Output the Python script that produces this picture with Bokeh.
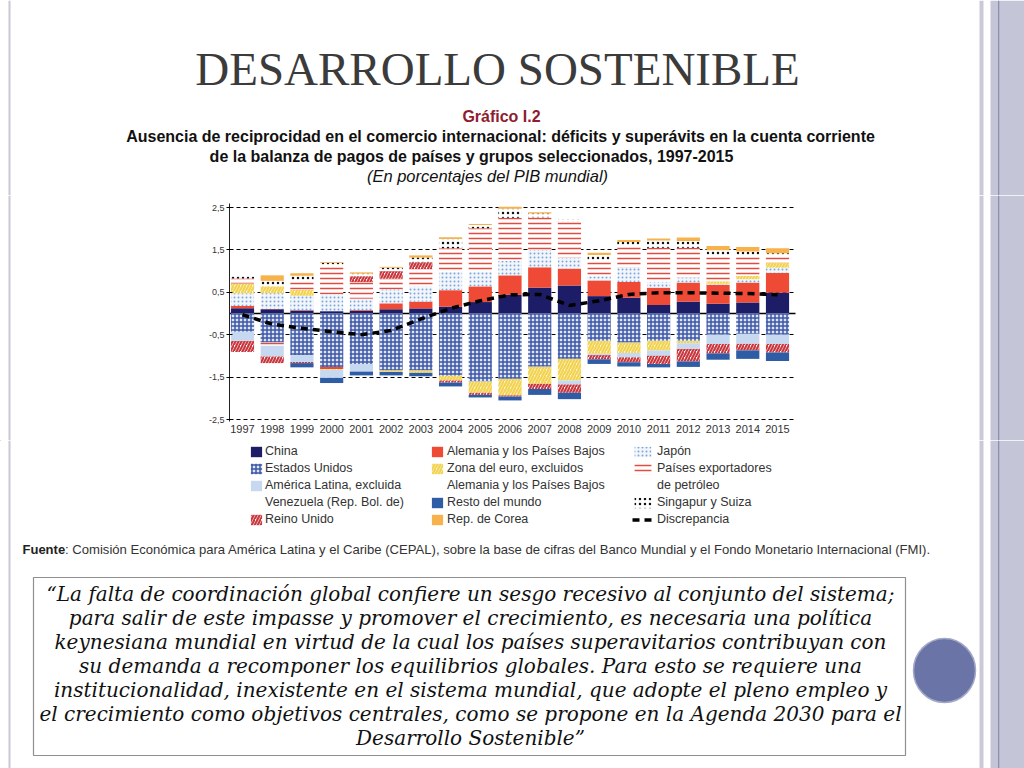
import numpy as np
from bokeh.plotting import figure
from bokeh.layouts import column
from bokeh.models import (ColumnDataSource, FixedTicker, Legend, LegendItem, Range1d,
                          CustomJSTickFormatter, Grid)
from bokeh.core.properties import value
from bokeh.embed import file_html
from bokeh.resources import INLINE

# ---------------- data (percent of world GDP) ----------------
years = list(range(1997, 2016))
china = [0.125, 0.10, 0.07, 0.055, 0.06, 0.10, 0.12, 0.16, 0.27, 0.44, 0.61, 0.66, 0.41, 0.375, 0.20, 0.28, 0.23, 0.26, 0.49]
alemania = [0.05, 0.01, 0.01, -0.05, 0.02, 0.14, 0.16, 0.39, 0.37, 0.46, 0.48, 0.40, 0.37, 0.37, 0.41, 0.45, 0.45, 0.47, 0.47]
japon = [0.30, 0.37, 0.34, 0.40, 0.27, 0.33, 0.36, 0.43, 0.35, 0.34, 0.41, 0.25, 0.10, 0.34, 0.14, 0.12, 0.02, 0.08, 0.12]
zona_euro = [0.23, 0.16, 0.14, -0.02, 0.0, -0.04, -0.06, -0.12, -0.27, -0.39, -0.41, -0.51, -0.31, -0.25, -0.23, -0.06, 0.06, 0.08, 0.12]
petroleo = [0.12, -0.08, 0.21, 0.66, 0.39, 0.25, 0.41, 0.56, 1.02, 1.02, 0.77, 0.86, 0.37, 0.51, 0.80, 0.70, 0.60, 0.47, 0.16]
reino_unido = [-0.27, -0.16, -0.03, 0.0, 0.14, 0.18, 0.16, -0.05, -0.05, -0.03, -0.12, -0.20, -0.10, -0.12, -0.20, -0.30, -0.22, -0.16, -0.20]
singapur = [0.08, 0.13, 0.12, 0.08, 0.06, 0.08, 0.11, 0.22, 0.08, 0.21, 0.09, 0.06, 0.13, 0.09, 0.17, 0.16, 0.13, 0.10, 0.06]
corea = [0.0, 0.13, 0.06, 0.02, 0.03, 0.02, 0.05, 0.04, 0.02, 0.05, 0.03, 0.0, 0.05, 0.05, 0.05, 0.08, 0.10, 0.11, 0.12]
eeuu = [-0.43, -0.68, -0.98, -1.26, -1.19, -1.34, -1.34, -1.46, -1.60, -1.54, -1.25, -1.07, -0.64, -0.68, -0.64, -0.64, -0.50, -0.48, -0.50]
america_latina = [-0.21, -0.25, -0.16, -0.19, -0.18, 0.0, 0.0, 0.0, 0.0, 0.0, 0.0, -0.09, -0.03, -0.10, -0.12, -0.13, -0.22, -0.23, -0.22]
resto = [0.0, 0.0, -0.10, -0.12, -0.09, -0.08, -0.08, -0.09, -0.06, -0.09, -0.14, -0.15, -0.11, -0.10, -0.08, -0.13, -0.15, -0.20, -0.20]
discrepancia = [-0.03, -0.25, -0.35, -0.43, -0.50, -0.40, -0.13, 0.12, 0.30, 0.44, 0.45, 0.19, 0.30, 0.45, 0.49, 0.49, 0.48, 0.47, 0.44]

y_ticks = [-2.5, -1.5, -0.5, 0.5, 1.5, 2.5]

series = {
    "china": china, "alemania": alemania, "japon": japon, "zona": zona_euro,
    "petroleo": petroleo, "ru": reino_unido, "singapur": singapur, "corea": corea,
    "eeuu": eeuu, "amlat": america_latina, "resto": resto,
}
pos_order = ["china", "alemania", "japon", "zona", "petroleo", "ru", "singapur", "corea"]
neg_order = ["eeuu", "alemania", "petroleo", "zona", "amlat", "ru", "resto"]

styles = {
    "china": dict(fill_color="#1c1d66"),
    "alemania": dict(fill_color="#ee4a36"),
    "japon": dict(fill_color="#f2f6fc", hatch_pattern=".", hatch_color="#7ca5da", hatch_scale=4, hatch_weight=1.6),
    "zona": dict(fill_color="#fdf7dc", hatch_pattern="/", hatch_color="#f2d24e", hatch_scale=6, hatch_weight=2.2),
    "petroleo": dict(fill_color="white", hatch_pattern="-", hatch_color="#e44a40", hatch_scale=5, hatch_weight=1.5),
    "ru": dict(fill_color="white", hatch_pattern="/", hatch_color="#c9383f", hatch_scale=6, hatch_weight=2.2),
    "singapur": dict(fill_color="white", hatch_pattern=".", hatch_color="#111111", hatch_scale=5, hatch_weight=2.0),
    "corea": dict(fill_color="#f8b24c"),
    "eeuu": dict(fill_color="#dfe5f3", hatch_pattern="+", hatch_color="#3d58a8", hatch_scale=4, hatch_weight=1.5),
    "amlat": dict(fill_color="#c6d9f0"),
    "resto": dict(fill_color="#2e5da6"),
}
disc_style = dict(line_color="black", line_width=3.5, line_dash="7 5")

n = len(years)
bottoms = {k: np.zeros(n) for k in series}
tops = {k: np.zeros(n) for k in series}
base = np.zeros(n)
for k in pos_order:
    v = np.array(series[k], dtype=float)
    m = v > 0
    bottoms[k][m] = base[m]
    tops[k][m] = base[m] + v[m]
    base = base + np.where(m, v, 0)
base = np.zeros(n)
for k in neg_order:
    v = np.array(series[k], dtype=float)
    m = v < 0
    tops[k][m] = base[m]
    bottoms[k][m] = base[m] + v[m]
    base = base + np.where(m, v, 0)

W, H = 1024, 768
Y_HEAD, Y_CHART = 195, 440          # row boundaries (page px)

DECO = [(8, 10, "#c8c9d3"), (979, 983, "#c9cad8"), (990, 1024, "#c4c6d7"), (997.5, 998.8, "#8c8eb2")]


def blank_fig(x0, x1, y0, y1):
    f = figure(width=x1 - x0, height=y1 - y0, output_backend="svg", toolbar_location=None,
               x_range=Range1d(x0, x1), y_range=Range1d(y1, y0),
               min_border=0, x_axis_type=None, y_axis_type=None)
    f.min_border_left = f.min_border_right = f.min_border_top = f.min_border_bottom = 0
    f.grid.visible = False
    f.outline_line_color = None
    f.background_fill_color = "white"
    f.border_fill_color = "white"
    return f


def deco(f, y0, y1, X=lambda v: v):
    for l, r, c in DECO:
        f.quad(left=[X(l)], right=[X(r)], top=[y0], bottom=[y1], fill_color=c, line_color=None)


def txt(f, x, y, text, size, font="Liberation Sans", style="normal", color="#222222", align="center"):
    f.text(x=[x], y=[y], text=[text], text_font=value(font), text_font_size=size,
           text_font_style=style, text_color=color, text_align=align, text_baseline="middle")


# ---------------- header ----------------
head = blank_fig(0, W, 0, Y_HEAD)
deco(head, 0, Y_HEAD)
txt(head, 497, 68, "DESARROLLO SOSTENIBLE", "47px", font="Liberation Serif", color="#3b3b3b")
txt(head, 501, 116, "Gráfico I.2", "16px", style="bold", color="#8e1d2e")
txt(head, 500, 136, "Ausencia de reciprocidad en el comercio internacional: déficits y superávits en la cuenta corriente",
    "16px", style="bold", color="#111111")
txt(head, 471, 156, "de la balanza de pagos de países y grupos seleccionados, 1997-2015", "16px", style="bold",
    color="#111111")
txt(head, 487, 175, "(En porcentajes del PIB mundial)", "16.5px", style="italic", color="#111111")

# ---------------- chart row: one full-width figure, frame = whole canvas ----------------
# page layout of the plotting area: 1997 bar at x=242, 2015 bar at x=777; +2.5 at y=207, -2.5 at y=419
SX = (777 - 242) / 18.0
SY = (419 - 207) / 5.0
x0 = 1997 - 242 / SX
x1 = 2015 + (W - 777) / SX
ytop = 2.5 + (207 - Y_HEAD) / SY
ybot = -2.5 - (Y_CHART - 419) / SY
XL, XR = x0 + 229 / SX, x0 + 795 / SX      # chart box edges (data units)

p = figure(width=W, height=Y_CHART - Y_HEAD, output_backend="svg", toolbar_location=None,
           x_range=Range1d(x0, x1), y_range=Range1d(ybot, ytop),
           background_fill_color="white", border_fill_color="white", min_border=0)
p.min_border_left = p.min_border_right = p.min_border_top = p.min_border_bottom = 0
p.outline_line_color = None
p.xgrid.visible = False
p.ygrid.visible = False

deco(p, ytop, ybot, X=lambda v: x0 + v / SX)

has_cross = "cross_bounds" in Grid.properties()
if has_cross:
    g = Grid(dimension=1, ticker=FixedTicker(ticks=y_ticks), cross_bounds=(XL, XR),
             grid_line_color="black", grid_line_dash="4 3", grid_line_width=1)
    p.add_layout(g)
    g0 = Grid(dimension=1, ticker=FixedTicker(ticks=[0]), cross_bounds=(XL, XR),
              grid_line_color="black", grid_line_width=1.6)
    p.add_layout(g0)
else:
    p.segment(x0=[XL] * len(y_ticks), x1=[XR] * len(y_ticks), y0=y_ticks, y1=y_ticks,
              line_color="black", line_dash="4 3", line_width=1)
    p.segment(x0=[XL], x1=[XR], y0=[0], y1=[0], line_color="black", line_width=1.6)

p.yaxis.fixed_location = XL
p.yaxis.bounds = (-2.55, 2.6)
p.yaxis.ticker = FixedTicker(ticks=y_ticks)
p.yaxis.formatter = CustomJSTickFormatter(code="return tick.toFixed(1).replace('.', ',');")
p.yaxis.major_tick_in = 3
p.yaxis.major_tick_out = 3
p.yaxis.minor_tick_line_color = None
p.yaxis.axis_line_color = "#222222"
p.yaxis.major_label_text_font = "Liberation Sans"
p.yaxis.major_label_text_font_size = "9px"
p.yaxis.major_label_text_color = "#333333"
p.yaxis.major_label_standoff = 2

p.xaxis.fixed_location = -2.5
p.xaxis.ticker = FixedTicker(ticks=years)
p.xaxis.axis_line_color = None
p.xaxis.major_tick_line_color = None
p.xaxis.major_tick_in = 0
p.xaxis.major_tick_out = 0
p.xaxis.minor_tick_line_color = None
p.xaxis.minor_tick_out = 0
p.xaxis.major_label_text_font = "Liberation Sans"
p.xaxis.major_label_text_font_size = "11px"
p.xaxis.major_label_text_color = "#333333"
p.xaxis.major_label_standoff = 5

for k in series:
    src = ColumnDataSource(dict(x=years, bottom=bottoms[k], top=tops[k]))
    p.vbar(x="x", bottom="bottom", top="top", width=0.78, source=src, line_color=None, **styles[k])

p.line(years, discrepancia, **disc_style)

# ---------------- bottom part ----------------
bot = blank_fig(0, W, Y_CHART, H)
deco(bot, Y_CHART, H)

# legend swatch renderers: styled like the bars, parked outside the visible range
OFF = -5000
proxy = {k: bot.vbar(x=[OFF], top=[OFF + 1], bottom=[OFF], width=1, line_color=None, **styles[k])
         for k in styles}
proxy["disc"] = bot.line(x=[OFF, OFF + 1], y=[OFF, OFF], **disc_style)
proxy[None] = bot.vbar(x=[OFF], top=[OFF + 1], bottom=[OFF], width=1, fill_alpha=0, line_alpha=0)

col1 = [("China", "china"), ("Estados Unidos", "eeuu"), ("América Latina, excluida", "amlat"),
        ("Venezuela (Rep. Bol. de)", None), ("Reino Unido", "ru")]
col2 = [("Alemania y los Países Bajos", "alemania"), ("Zona del euro, excluidos", "zona"),
        ("Alemania y los Países Bajos", None), ("Resto del mundo", "resto"), ("Rep. de Corea", "corea")]
col3 = [("Japón", "japon"), ("Países exportadores", "petroleo"), ("de petróleo", None),
        ("Singapur y Suiza", "singapur"), ("Discrepancia", "disc")]

for col, lx, gw, so in [(col1, 249, 14, 2), (col2, 430, 14, 3), (col3, 632, 21, 4)]:
    items = [LegendItem(label=lab, renderers=[proxy[key]]) for lab, key in col]
    lg = Legend(items=items, location=(lx, H - 526), padding=0, margin=0, spacing=3,
                glyph_height=13, glyph_width=gw, label_height=13, label_standoff=so,
                label_text_font="Liberation Sans", label_text_font_size="12.5px",
                label_text_color="#333333", border_line_color=None, background_fill_alpha=0)
    bot.add_layout(lg, "center")

txt(bot, 22, 549, "Fuente", "13px", style="bold", color="#222222", align="left")
txt(bot, 64.5, 549, ":  Comisión Económica para América Latina y el Caribe (CEPAL), sobre la base de cifras del "
    "Banco Mundial y el Fondo Monetario Internacional (FMI).", "13.1px", color="#333333", align="left")

bot.quad(left=[33], right=[905], top=[577], bottom=[755], fill_color="white", line_color="#8f8f8f",
         line_width=1.2)
quote = [
    "“La falta de coordinación global confiere un sesgo recesivo al conjunto del sistema;",
    "para salir de este impasse y promover el crecimiento, es necesaria una política",
    "keynesiana mundial en virtud de la cual los países superavitarios contribuyan con",
    "su demanda a recomponer los equilibrios globales. Para esto se requiere una",
    "institucionalidad, inexistente en el sistema mundial, que adopte el pleno empleo y",
    "el crecimiento como objetivos centrales, como se propone en la Agenda 2030 para el",
    "Desarrollo Sostenible”",
]
for i, line in enumerate(quote):
    txt(bot, 470, 593 + 24 * i, line, "20px", font="DejaVu Serif", style="italic", color="#111111")

bot.ellipse(x=[944], y=[670], width=62, height=64, fill_color="#6a74a7", line_color="#a3a8c8", line_width=1.5)

layout = column(head, p, bot, spacing=0)
open("out.html", "w").write(file_html(layout, INLINE))
